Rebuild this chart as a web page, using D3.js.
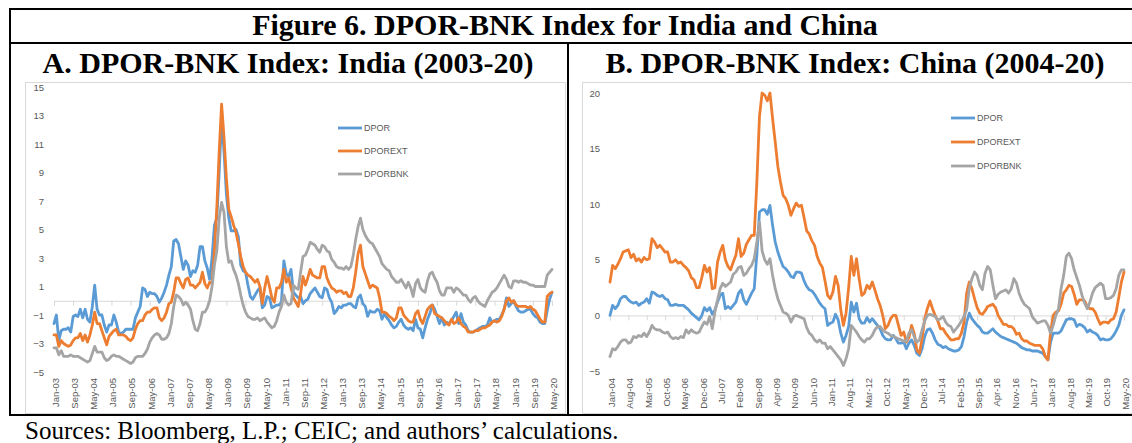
<!DOCTYPE html>
<html><head><meta charset="utf-8">
<script src="https://cdn.jsdelivr.net/npm/d3@7"></script>
<style>body{margin:0;background:#fff}svg{display:block}</style>
</head><body>
<svg id="c" width="1132" height="443"></svg>
<script>
// ---------- data ----------
const seriesNames = ["DPOR", "DPOREXT", "DPORBNK"];
const seriesColors = ["#5B9BD5", "#ED7D31", "#A5A5A5"];

const indiaTickLabels = ["Jan-03","Sep-03","May-04","Jan-05","Sep-05","May-06","Jan-07","Sep-07","May-08","Jan-09","Sep-09","May-10","Jan-11","Sep-11","May-12","Jan-13","Sep-13","May-14","Jan-15","Sep-15","May-16","Jan-17","Sep-17","May-18","Jan-19","Sep-19","May-20"];
const chinaTickLabels = ["Jan-04","Aug-04","Mar-05","Oct-05","May-06","Dec-06","Jul-07","Feb-08","Sep-08","Apr-09","Nov-09","Jun-10","Jan-11","Aug-11","Mar-12","Oct-12","May-13","Dec-13","Jul-14","Feb-15","Sep-15","Apr-16","Nov-16","Jun-17","Jan-18","Aug-18","Mar-19","Oct-19","May-20"];
const indiaYTicks = [15, 13, 11, 9, 7, 5, 3, 1, -1, -3, -5];
const chinaYTicks = [20, 15, 10, 5, 0, -5];

// India, monthly Jan-03 .. May-20
const indiaDPOR = [
-1.6,-1.0,-2.8,-2.1,-2.0,-2.0,-1.9,-2.2,-1.1,-1.0,
-1.1,-0.6,-1.2,-0.6,-1.3,-1.5,-0.4,1.1,-0.6,-1.0,
-1.0,-1.7,-2.2,-1.7,-1.7,-1.0,-1.5,-2.2,-2.3,-2.2,
-2.0,-2.0,-2.0,-2.0,-1.2,-0.8,-0.4,0.9,0.8,0.3,
0.6,0.5,0.5,0.3,-0.1,0.2,0.6,1.1,1.8,2.4,
4.2,4.3,4.0,3.1,2.2,2.8,2.5,1.7,2.1,2.0,
2.5,3.8,3.8,2.8,2.3,1.5,3.0,5.3,5.8,9.0,
12.8,10.5,7.5,5.8,4.9,4.9,5.0,4.5,2.5,2.1,
2.0,1.1,0.3,0.1,0.4,0.7,0.9,-0.5,-0.3,0.3,
0.2,-0.5,-0.4,-0.3,-0.3,-0.1,2.8,1.9,1.7,2.2,
0.6,0.4,0.2,0.3,-0.2,0.0,0.1,0.5,0.7,0.9,
0.6,0.3,0.2,0.9,0.8,0.2,-0.1,-0.9,-0.7,-0.4,
-0.5,-0.3,-0.3,-0.2,-0.2,-0.4,-0.5,0.2,0.4,-0.2,
-0.4,-1.1,-0.7,-0.8,-0.8,-0.6,-0.7,-1.3,-0.9,-1.2,
-1.4,-1.7,-1.9,-1.8,-1.5,-1.3,-1.7,-1.9,-2.0,-1.9,
-2.1,-1.3,-1.9,-2.0,-2.6,-1.9,-1.3,-0.9,-0.3,-0.6,
-1.1,-1.6,-1.2,-1.7,-1.5,-1.6,-1.4,-1.1,-0.8,-1.6,
-0.9,-1.5,-1.7,-2.1,-2.2,-2.2,-2.1,-2.0,-1.9,-1.8,
-1.8,-1.7,-1.2,-1.5,-1.4,-1.3,-1.3,-1.0,-0.6,0.2,
-0.4,-0.2,0.0,-0.4,-0.7,-0.8,-0.8,-0.7,-0.6,-0.6,
-0.9,-1.1,-1.2,-1.5,-1.6,-1.6,-0.7,0.1,0.6];
const indiaDPOREXT = [
-2.4,-2.4,-3.2,-2.8,-3.0,-3.1,-3.2,-3.1,-2.8,-2.6,
-2.6,-2.3,-2.8,-2.4,-2.9,-2.4,-1.7,-0.8,-1.6,-1.6,
-2.1,-2.6,-3.1,-2.5,-2.3,-2.1,-2.0,-2.4,-2.4,-2.4,
-2.5,-2.7,-2.8,-2.6,-2.0,-1.6,-1.4,-1.4,-1.0,-0.8,
-0.8,-0.6,-0.5,-0.5,-1.2,-1.4,-1.2,-0.8,-0.2,-0.1,
0.6,1.6,1.6,1.2,0.9,1.5,1.6,1.1,1.1,0.9,
1.1,1.3,2.0,1.2,0.9,1.3,1.2,3.5,6.5,10.5,
13.8,11.5,8.6,6.4,5.9,5.3,4.8,4.0,3.1,2.4,
2.0,1.8,1.7,1.5,1.3,1.5,1.0,-0.2,0.9,1.7,
1.0,0.2,-0.1,0.9,0.9,1.3,2.2,1.3,1.6,0.9,
0.2,-0.1,-0.4,0.5,1.7,1.1,1.6,2.2,1.8,1.7,
1.6,1.6,2.4,2.4,1.6,1.2,0.9,0.8,0.6,0.7,
0.7,0.5,0.6,0.3,0.3,0.9,2.0,3.3,3.9,2.4,
1.9,1.4,0.9,1.1,1.0,0.9,0.2,-0.8,-0.8,-0.9,
-1.1,-1.2,-1.4,-1.2,-0.5,-0.5,-1.0,-1.2,-1.4,-1.5,
-1.5,-0.9,-0.7,-1.3,-1.6,-1.1,-0.6,-0.4,-0.3,-0.9,
-1.0,-1.1,-1.2,-1.4,-1.6,-1.7,-1.3,-1.6,-1.5,-1.2,
-1.6,-1.8,-1.9,-2.2,-2.2,-2.2,-2.1,-2.1,-2.0,-1.9,
-1.9,-1.8,-1.7,-1.5,-1.4,-1.5,-1.4,-1.1,-0.6,0.0,
0.2,-0.1,0.0,-0.3,-0.4,-0.4,-0.4,-0.4,-0.5,-0.4,
-0.6,-0.7,-1.0,-1.3,-1.5,-1.5,0.3,0.5,0.6];
const indiaDPORBNK = [
-3.3,-3.3,-3.8,-3.5,-3.9,-3.9,-3.9,-3.8,-3.9,-3.9,
-3.9,-4.0,-4.1,-4.2,-4.3,-4.2,-3.7,-3.2,-3.6,-3.6,
-3.6,-4.0,-4.2,-4.1,-3.9,-3.8,-3.9,-3.9,-4.0,-4.1,
-4.2,-4.3,-4.4,-4.3,-4.0,-3.9,-3.9,-3.9,-3.7,-3.4,
-2.9,-2.6,-2.4,-2.3,-2.4,-2.7,-2.7,-2.6,-2.3,-1.6,
-0.4,0.4,0.3,0.1,-0.3,-0.1,-0.3,-0.6,-1.4,-2.0,
-2.1,-1.6,-0.8,-0.8,-0.5,0.0,1.0,2.5,3.5,5.8,
6.9,6.2,3.8,2.7,2.8,2.2,1.8,1.2,0.4,-0.3,
-0.8,-1.1,-1.2,-1.3,-1.3,-1.2,-1.4,-1.3,-1.2,-1.5,
-1.7,-1.9,-1.8,-1.4,-0.8,-0.4,0.4,-0.1,-0.3,-0.2,
1.1,0.9,0.8,2.0,3.1,3.2,3.6,4.1,4.0,3.9,
3.6,3.4,3.9,3.8,3.5,3.4,2.9,2.7,2.4,2.3,
2.3,2.2,2.4,2.2,2.4,3.2,4.3,5.2,5.8,5.0,
4.6,4.3,4.1,4.0,3.7,3.4,3.1,2.6,2.4,2.2,
2.1,1.7,1.5,1.3,1.3,1.5,1.2,0.9,1.3,0.9,
0.3,1.2,1.5,0.9,0.7,0.6,1.4,1.9,2.0,1.6,
1.3,0.7,0.4,0.4,0.9,0.9,0.9,0.6,0.9,0.8,
0.6,0.4,0.4,0.1,-0.1,0.2,0.3,0.0,-0.2,-0.3,
-0.4,0.0,0.3,0.6,0.7,0.9,1.2,1.5,1.8,1.5,
1.0,0.9,1.4,1.4,1.3,1.4,1.3,1.3,1.2,1.1,
1.1,1.0,1.0,1.0,1.0,1.0,1.8,2.0,2.2];

// China, monthly Jan-04 .. May-20
const chinaDPOR = [
0.0,0.9,0.6,0.9,1.5,1.7,1.7,1.4,1.2,1.1,
1.2,0.9,1.1,1.2,1.5,1.1,2.1,2.0,1.8,1.7,
1.8,1.5,1.4,0.9,0.9,1.0,0.9,0.9,0.9,0.7,
0.5,0.2,0.0,-0.2,-0.4,0.0,0.7,0.4,0.7,0.1,
0.5,1.2,1.8,2.0,0.6,0.8,0.6,0.9,1.2,2.0,
2.3,1.4,1.0,1.5,2.0,2.4,5.5,9.3,9.5,9.5,
9.1,9.9,8.1,6.6,5.7,5.0,4.4,4.2,3.9,3.5,
3.4,3.9,3.9,3.8,3.1,2.6,2.3,2.2,1.9,1.5,
1.1,0.8,0.6,-0.9,-0.7,-0.6,0.1,-0.4,-1.6,-2.4,
-1.8,-1.0,1.2,0.3,1.1,-0.3,-0.7,-0.7,-0.2,-0.6,
-0.3,-0.6,-0.9,-1.2,-1.8,-2.1,-2.2,-2.2,-1.8,-2.1,
-2.5,-2.5,-2.4,-3.0,-2.5,-2.2,-2.7,-3.4,-3.6,-3.0,
-1.9,-1.3,-1.2,-1.6,-2.2,-2.6,-2.7,-2.9,-2.8,-3.0,
-3.1,-3.2,-3.2,-3.1,-2.8,-1.9,-0.6,0.2,-0.3,-0.6,
-0.9,-1.1,-1.5,-1.6,-1.6,-1.4,-1.2,-1.5,-1.7,-1.9,
-2.0,-2.1,-2.2,-2.3,-2.4,-2.5,-2.7,-2.9,-3.0,-3.1,
-3.1,-3.2,-3.2,-3.2,-3.3,-3.4,-3.7,-4.0,-2.4,-1.6,
-1.6,-1.6,-1.4,-0.9,-0.4,-0.3,-0.3,-0.4,-1.0,-0.8,
-0.9,-1.1,-1.5,-1.3,-1.5,-1.6,-1.8,-2.2,-2.1,-2.2,
-2.2,-2.1,-1.8,-1.4,-0.9,0.0,0.5];
const chinaDPOREXT = [
3.0,4.5,4.2,4.6,5.1,5.7,5.8,5.9,5.2,5.5,
4.9,5.1,4.8,5.2,5.0,5.1,6.9,6.6,6.1,6.3,
6.0,5.7,5.7,4.8,4.8,5.0,4.7,4.8,4.5,4.3,
4.0,3.4,3.2,2.5,2.5,3.4,4.5,3.9,4.3,2.4,
2.5,4.8,5.7,6.3,5.0,4.4,4.1,4.8,5.4,6.9,
5.3,5.6,6.4,6.8,7.2,7.2,12.0,17.9,20.0,19.8,
19.3,20.0,17.7,15.6,13.4,12.0,10.8,10.5,9.9,9.0,
9.6,10.1,9.8,9.9,8.8,7.6,7.3,6.7,6.3,5.3,
4.7,4.3,3.1,1.8,1.5,2.1,3.5,2.7,0.5,-0.9,
0.2,2.5,5.3,3.6,5.1,3.3,1.8,2.0,2.7,2.4,
3.0,2.3,1.5,0.9,0.0,-1.2,-0.9,-0.3,0.0,0.0,
-0.9,-1.8,-1.5,-2.4,-2.0,-0.9,-1.6,-3.1,-3.4,-2.1,
-0.3,0.6,1.3,0.6,0.0,-0.5,-1.2,-1.2,-1.6,-1.9,
-2.2,-2.2,-2.1,-2.1,-1.6,-0.6,2.0,3.0,2.4,1.5,
0.7,0.2,0.1,0.4,0.8,0.9,1.0,0.7,0.0,-0.4,
-0.8,-0.8,-1.0,-1.0,-1.2,-1.7,-1.6,-2.1,-2.3,-2.3,
-2.5,-2.6,-2.7,-2.7,-2.7,-3.0,-3.7,-4.0,-1.5,0.0,
0.3,0.4,1.0,2.0,2.3,2.7,2.6,1.9,1.0,1.4,
1.4,1.3,0.8,0.6,0.6,0.3,-0.3,-0.8,-0.6,-0.6,
-0.7,-0.4,-0.3,0.3,1.6,3.0,3.9];
const chinaDPORBNK = [
-3.7,-3.0,-3.1,-2.8,-2.4,-2.2,-2.2,-2.5,-2.4,-1.9,
-2.0,-1.8,-1.9,-1.6,-1.9,-1.5,-0.9,-1.2,-1.3,-1.3,
-1.5,-1.6,-1.5,-1.9,-2.1,-2.0,-2.1,-1.9,-2.0,-1.3,
-1.6,-1.3,-1.5,-1.6,-1.5,-1.0,-0.6,-0.8,-0.1,-1.2,
0.3,1.4,2.4,2.9,2.6,2.8,3.0,3.7,3.9,4.3,
4.4,3.6,3.8,4.2,4.5,5.1,6.6,8.4,5.8,5.0,
4.6,5.1,3.6,2.4,1.5,0.9,0.3,0.2,0.0,-0.6,
-0.1,0.0,-0.1,-0.2,-0.3,-1.1,-1.6,-1.8,-2.2,-2.4,
-2.2,-2.5,-2.5,-3.0,-2.8,-3.1,-3.4,-3.7,-4.0,-4.5,
-3.9,-3.0,-0.9,-1.2,-1.5,-1.9,-2.2,-2.4,-2.1,-2.1,
-1.8,-1.3,-1.0,-1.0,-1.3,-1.5,-1.6,-1.8,-1.9,-2.0,
-2.1,-2.2,-2.3,-2.3,-1.6,-1.3,-1.9,-2.4,-2.2,-1.3,
-0.5,0.0,0.1,0.0,-0.1,-0.4,-0.3,-0.1,-0.6,-0.9,
-1.0,-1.5,-1.2,-0.9,-0.5,-0.1,0.5,2.4,3.3,3.9,
3.6,2.7,2.3,3.8,4.4,4.1,2.7,1.5,1.9,2.1,
2.2,2.3,2.0,2.4,3.3,2.9,2.0,1.4,1.0,0.8,
0.6,-0.1,-0.4,-0.7,-0.6,-0.5,-0.5,-0.9,-1.6,-0.9,
0.0,0.6,2.4,3.6,5.3,5.6,5.1,4.1,3.4,2.7,
1.8,1.1,0.6,1.2,2.0,2.5,2.7,2.9,2.7,1.5,
1.5,1.6,1.8,2.4,3.6,4.1,4.1];

// ---------- drawing ----------
const fmt = d3.timeFormat("%b-%y");
function monthCats(y0, m0, y1, m1) {
  return d3.timeMonth.range(new Date(y0, m0, 1), new Date(y1, m1 + 1, 1)).map(fmt);
}
const indiaCats = monthCats(2003, 0, 2020, 4);
const chinaCats = monthCats(2004, 0, 2020, 4);

const svg = d3.select("#c");
const serif = "'Liberation Serif','Times New Roman',serif";
const sans = "'Liberation Sans',Arial,sans-serif";

// chart area frames
svg.append("rect").attr("x", 25.5).attr("y", 82.5).attr("width", 540).attr("height", 331)
  .attr("fill", "#fff").attr("stroke", "#d9d9d9");
svg.append("rect").attr("x", 582.5).attr("y", 82.5).attr("width", 560).attr("height", 331)
  .attr("fill", "#fff").attr("stroke", "#d9d9d9");

// outer box lines
const frame = svg.append("g").attr("stroke", "#000").attr("stroke-width", 2);
frame.append("line").attr("x1", 10).attr("x2", 1132).attr("y1", 9).attr("y2", 9);
frame.append("line").attr("x1", 10).attr("x2", 1132).attr("y1", 43).attr("y2", 43);
frame.append("line").attr("x1", 10).attr("x2", 1132).attr("y1", 415).attr("y2", 415);
frame.append("line").attr("x1", 10).attr("x2", 10).attr("y1", 8).attr("y2", 416);
frame.append("line").attr("x1", 568).attr("x2", 568).attr("y1", 43).attr("y2", 415);

// titles
svg.append("text").attr("x", 565).attr("y", 35).attr("text-anchor", "middle")
  .attr("font-family", serif).attr("font-weight", "bold").attr("font-size", 30)
  .text("Figure 6. DPOR-BNK Index for India and China");
svg.append("text").attr("x", 288).attr("y", 73).attr("text-anchor", "middle")
  .attr("font-family", serif).attr("font-weight", "bold").attr("font-size", 30)
  .text("A. DPOR-BNK Index: India (2003-20)");
svg.append("text").attr("x", 855).attr("y", 73).attr("text-anchor", "middle")
  .attr("font-family", serif).attr("font-weight", "bold").attr("font-size", 30)
  .text("B. DPOR-BNK Index: China (2004-20)");
svg.append("text").attr("x", 25).attr("y", 439)
  .attr("font-family", serif).attr("font-size", 25)
  .text("Sources: Bloomberg, L.P.; CEIC; and authors\u2019 calculations.");

function panel(cfg) {
  const g = svg.append("g");
  const x = d3.scalePoint().domain(cfg.cats).range(cfg.xRange).padding(0);
  const y = d3.scaleLinear().domain(cfg.yDomain).range(cfg.yRange);

  // y axis labels
  const ya = g.append("g").attr("transform", `translate(${cfg.yLabelX},0)`)
    .call(d3.axisLeft(y).tickValues(cfg.yTicks).tickSize(0).tickPadding(0));
  ya.select(".domain").remove();
  ya.selectAll("text").attr("font-family", sans).attr("font-size", 9.5).attr("fill", "#595959");

  // horizontal axis at zero with tick marks
  const xa = g.append("g").attr("transform", `translate(0,${y(0)})`)
    .call(d3.axisBottom(x).tickValues(cfg.tickLabels).tickSize(5).tickFormat(""));
  xa.select(".domain").attr("stroke", "#d9d9d9");
  xa.selectAll(".tick line").attr("stroke", "#d9d9d9");

  // low-position category labels
  const xl = g.append("g").attr("transform", `translate(1,${cfg.labelY})`)
    .call(d3.axisBottom(x).tickValues(cfg.tickLabels).tickSize(0).tickPadding(0));
  xl.select(".domain").remove();
  xl.selectAll("text").attr("transform", "rotate(-90)").attr("x", 0).attr("y", 0)
    .attr("dy", "0.35em").attr("text-anchor", "end")
    .attr("font-family", sans).attr("font-size", 9.5).attr("fill", "#595959");

  // lines
  const line = d3.line().x((d, i) => x(cfg.cats[i])).y(d => y(d));
  cfg.series.forEach((s, k) => {
    g.append("path").datum(s).attr("d", line).attr("fill", "none")
      .attr("stroke", seriesColors[k]).attr("stroke-width", 2.8)
      .attr("stroke-linejoin", "round").attr("stroke-linecap", "round");
  });

  // legend
  const lg = g.append("g").attr("transform", `translate(${cfg.legendX},${cfg.legendY})`);
  seriesNames.forEach((n, k) => {
    const row = lg.append("g").attr("transform", `translate(0,${k * cfg.legendStep})`);
    row.append("line").attr("x1", 0).attr("x2", 24).attr("y1", 0).attr("y2", 0)
      .attr("stroke", seriesColors[k]).attr("stroke-width", 2.8);
    row.append("text").attr("x", 26).attr("y", 0).attr("dy", "0.35em")
      .attr("font-family", sans).attr("font-size", 9).attr("fill", "#595959").text(n);
  });
}

panel({
  cats: indiaCats, tickLabels: indiaTickLabels, yTicks: indiaYTicks,
  xRange: [54, 552], yDomain: [-5, 15], yRange: [372, 87],
  yLabelX: 44, labelY: 378,
  series: [indiaDPOR, indiaDPOREXT, indiaDPORBNK],
  legendX: 338, legendY: 128, legendStep: 23
});
panel({
  cats: chinaCats, tickLabels: chinaTickLabels, yTicks: chinaYTicks,
  xRange: [610, 1124], yDomain: [-5, 20], yRange: [371, 93],
  yLabelX: 600, labelY: 378,
  series: [chinaDPOR, chinaDPOREXT, chinaDPORBNK],
  legendX: 951, legendY: 118, legendStep: 24
});
</script>
</body></html>
